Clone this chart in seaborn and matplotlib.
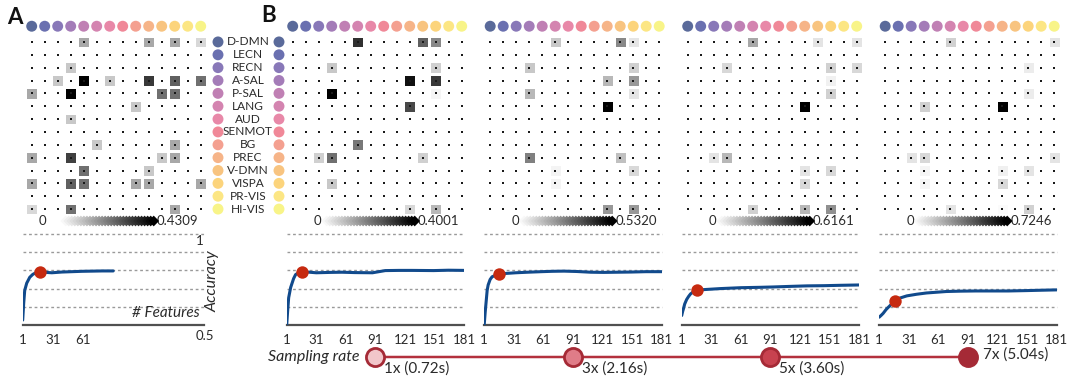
import numpy as np
import matplotlib
matplotlib.use("Agg")
import matplotlib.pyplot as plt
import seaborn as sns
from matplotlib.colors import LinearSegmentedColormap
from matplotlib.patches import ConnectionPatch

sns.set_theme(style="white")
plt.rcParams['font.family'] = ['Lato', 'DejaVu Sans']

# ---------------- data ----------------
networks = ["D-DMN", "LECN", "RECN", "A-SAL", "P-SAL", "LANG", "AUD", "SENMOT",
            "BG", "PREC", "V-DMN", "VISPA", "PR-VIS", "HI-VIS"]
net_colors = ["#5a6a9a", "#6a70b0", "#8878b8", "#a47cb8", "#c080b4", "#d484b0",
              "#e888a8", "#f08898", "#f4a090", "#f6b488", "#f8c480", "#fcd47c",
              "#fce684", "#f8f488"]

# nonzero cells: (row, col, value)
cells_A = [(0, 4, 0.147), (0, 9, 0.147), (0, 11, 0.147), (0, 13, 0.066),
           (2, 3, 0.093),
           (3, 2, 0.093), (3, 4, 0.4309), (3, 6, 0.093), (3, 9, 0.336), (3, 11, 0.269), (3, 13, 0.242),
           (4, 0, 0.147), (4, 3, 0.4309), (4, 10, 0.242), (4, 11, 0.242),
           (5, 8, 0.093), (6, 3, 0.093),
           (8, 5, 0.093), (8, 11, 0.147),
           (9, 0, 0.147), (9, 3, 0.323), (9, 10, 0.093), (9, 11, 0.147),
           (10, 4, 0.242), (10, 9, 0.093),
           (11, 0, 0.147), (11, 3, 0.269), (11, 4, 0.242), (11, 8, 0.147), (11, 9, 0.147), (11, 13, 0.147),
           (13, 0, 0.066), (13, 3, 0.242), (13, 11, 0.147)]
cells_B1 = [(0, 5, 0.325), (0, 10, 0.250), (0, 11, 0.187),
            (2, 3, 0.086), (2, 11, 0.074),
            (3, 9, 0.375), (3, 11, 0.312),
            (4, 3, 0.4001), (4, 11, 0.017),
            (5, 9, 0.287), (8, 5, 0.212),
            (9, 2, 0.074), (9, 3, 0.224), (9, 10, 0.074),
            (11, 3, 0.086),
            (13, 9, 0.061), (13, 11, 0.111)]
cells_B2 = [(0, 5, 0.115), (0, 10, 0.248), (0, 11, 0.056),
            (2, 3, 0.115), (2, 11, 0.098),
            (3, 9, 0.148), (3, 11, 0.215),
            (4, 3, 0.148), (4, 11, 0.056),
            (5, 9, 0.5320),
            (9, 3, 0.265), (9, 10, 0.131),
            (10, 5, 0.023), (10, 11, 0.081),
            (11, 5, 0.023),
            (13, 9, 0.215), (13, 11, 0.215)]
cells_B3 = [(0, 5, 0.210), (0, 10, 0.065), (0, 13, 0.065),
            (2, 3, 0.094), (2, 11, 0.113), (2, 13, 0.094),
            (3, 11, 0.036), (4, 11, 0.113),
            (5, 9, 0.6161),
            (9, 2, 0.065), (9, 3, 0.171),
            (10, 9, 0.065), (10, 11, 0.094),
            (11, 9, 0.094),
            (13, 5, 0.113), (13, 9, 0.171), (13, 11, 0.268)]
cells_B4 = [(0, 5, 0.133), (0, 13, 0.077),
            (2, 11, 0.054), (4, 11, 0.054),
            (5, 3, 0.133), (5, 9, 0.7246),
            (9, 2, 0.077), (9, 3, 0.111), (9, 13, 0.077),
            (10, 3, 0.031), (10, 9, 0.043), (10, 11, 0.077),
            (11, 3, 0.031), (11, 9, 0.111),
            (13, 5, 0.077), (13, 9, 0.014), (13, 11, 0.133)]
vmax_list = [0.4309, 0.4001, 0.5320, 0.6161, 0.7246]
vmax_labels = ["0.4309", "0.4001", "0.5320", "0.6161", "0.7246"]

feat_A = [1, 2, 3, 5, 8, 11, 14, 18, 24, 30, 40, 50, 60, 70, 80, 91]
acc_A = [0.527, 0.62, 0.69, 0.73, 0.762, 0.778, 0.787, 0.793, 0.789, 0.787, 0.791, 0.793, 0.795, 0.796, 0.797, 0.797]
feat_B1 = [1, 2, 3, 5, 8, 10, 13, 17, 24, 31, 45, 57, 70, 88, 101, 115, 128, 150, 165, 181]
acc_B1 = [0.5, 0.58, 0.65, 0.706, 0.755, 0.777, 0.787, 0.793, 0.79, 0.787, 0.789, 0.79, 0.788, 0.787, 0.799, 0.8, 0.8, 0.799, 0.801, 0.8]
feat_B2 = [1, 2, 3, 4, 5, 7, 9, 12, 16, 22, 33, 45, 59, 70, 82, 95, 109, 122, 136, 150, 165, 181]
acc_B2 = [0.5, 0.57, 0.63, 0.69, 0.72, 0.75, 0.765, 0.772, 0.778, 0.783, 0.787, 0.79, 0.793, 0.795, 0.796, 0.794, 0.79, 0.789, 0.79, 0.791, 0.793, 0.793]
feat_B3 = [1, 2, 3, 4, 6, 8, 10, 13, 17, 22, 28, 40, 61, 80, 94, 110, 128, 145, 161, 181]
acc_B3 = [0.552, 0.575, 0.593, 0.615, 0.64, 0.657, 0.671, 0.683, 0.691, 0.694, 0.696, 0.700, 0.705, 0.707, 0.709, 0.712, 0.715, 0.716, 0.718, 0.72]
feat_B4 = [1, 3, 5, 8, 10, 13, 17, 22, 29, 39, 49, 59, 69, 84, 99, 115, 132, 150, 165, 181]
acc_B4 = [0.543, 0.553, 0.564, 0.585, 0.596, 0.612, 0.633, 0.648, 0.66, 0.669, 0.676, 0.68, 0.684, 0.686, 0.687, 0.687, 0.687, 0.689, 0.691, 0.693]
selected_feat = [18, 17, 16, 17, 17]

ticks_A = [1, 31, 61]
ticks_B = [1, 31, 61, 91, 121, 151, 181]
sampling_labels = ["1x (0.72s)", "3x (2.16s)", "5x (3.60s)", "7x (5.04s)"]
sampling_fill = ["#f2c6ca", "#e07c88", "#c8424f", "#a52a36"]
sampling_at_feature = 91

# ---------------- layout ----------------
W, H = 1068, 379
fig = plt.figure(figsize=(W / 100, H / 100), dpi=100)
fig.patch.set_facecolor("white")


def px_axes(x, y, w, h):
    return fig.add_axes([x / W, 1 - (y + h) / H, w / W, h / H])


def ftext(x, y, s, **kw):
    return fig.text(x / W, 1 - y / H, s, **kw)


cmap = LinearSegmentedColormap.from_list("wb", ["#ffffff", "#000000"])
all_cells = [cells_A, cells_B1, cells_B2, cells_B3, cells_B4]
all_feat = [feat_A, feat_B1, feat_B2, feat_B3, feat_B4]
all_acc = [acc_A, acc_B1, acc_B2, acc_B3, acc_B4]
mat_lefts = [25.2, 286.2, 483.7, 681.2, 878.7]
acc_lefts = [22.7, 286.7, 484.2, 681.7, 879.2]
acc_widths = [181, 177.5, 177.5, 177.5, 177.5]
MAT_TOP, MAT_H, MAT_W = 35.5, 180.0, 182.0
ROW_PX = MAT_H / 14
ACC_TOP, ACC_H = 234, 91
txt_col = "#2a2a2a"

acc_axes = []
for p in range(5):
    n = len(networks)
    mat = np.zeros((n, n))
    for r, c, v in all_cells[p]:
        mat[r, c] = v
    ax = px_axes(mat_lefts[p], MAT_TOP, MAT_W, MAT_H)
    sns.heatmap(mat, ax=ax, cmap=cmap, vmin=0, vmax=vmax_list[p], cbar=False,
                linewidths=0.9, linecolor="white", xticklabels=False, yticklabels=False)
    ax.set_xlim(0, n)
    ax.set_ylim(n, 0)
    for s in ax.spines.values():
        s.set_visible(False)
    gx, gy = np.meshgrid(np.arange(n) + 0.5, np.arange(n) + 0.5)
    ax.scatter(gx.ravel(), gy.ravel(), s=1.3, marker="s", c="#1a1a1a", linewidths=0, zorder=3)
    # top network circles
    top_y = 0.5 - (41.7 - 26.0) / ROW_PX
    ax.scatter(np.arange(n) + 0.5, [top_y] * n, s=62, c=net_colors, linewidths=0,
               clip_on=False, zorder=4)
    # colour ramp
    ramp_y = (221 - MAT_TOP) / ROW_PX
    zero_x = 0.5 + (10.3 if p == 0 else 25.0) / 13
    ax.text(zero_x, ramp_y, "0", ha="center", va="center", fontsize=9.5, color=txt_col)
    rx = np.linspace(0.5 + 34 / 13, 0.5 + 122 / 13, 30)
    rc = cmap(np.linspace(0.03, 1.0, 30))
    ax.scatter(rx, [ramp_y] * 30, s=30, marker="D", c=rc, linewidths=0, clip_on=False, zorder=4)
    ax.text(0.5 + 125 / 13, ramp_y, vmax_labels[p], ha="left", va="center", fontsize=9.5,
            color=txt_col)
    if p == 0:
        lab_x = (248 - mat_lefts[0]) / 13
        circ_x = (218 - mat_lefts[0]) / 13
        ax.scatter([circ_x] * n, np.arange(n) + 0.5, s=62, c=net_colors, linewidths=0,
                   clip_on=False, zorder=4)
        for i, name in enumerate(networks):
            ax.text(lab_x, i + 0.5, name, ha="center", va="center", fontsize=8.6, color=txt_col)
    if p == 1:
        circ_x = (279 - mat_lefts[1]) / 13
        ax.scatter([circ_x] * n, np.arange(n) + 0.5, s=62, c=net_colors, linewidths=0,
                   clip_on=False, zorder=4)

    # accuracy curve
    axa = px_axes(acc_lefts[p], ACC_TOP, acc_widths[p], ACC_H)
    axa.set_facecolor("none")
    for lvl in [0.6, 0.7, 0.8, 0.9, 1.0]:
        axa.axhline(lvl, color="#9a9a9a", lw=1.0, ls=(0, (2, 2)), clip_on=False, zorder=1)
    sns.lineplot(x=all_feat[p], y=all_acc[p], ax=axa, color="#114a8c", lw=2.2, zorder=3)
    si = all_feat[p].index(selected_feat[p])
    axa.scatter([all_feat[p][si]], [all_acc[p][si]], s=80, color="#c62a10", zorder=5,
                linewidths=0, clip_on=False)
    axa.set_xlim(1, 181)
    axa.set_ylim(0.5, 1.0)
    for side in ["top", "left", "right"]:
        axa.spines[side].set_visible(False)
    axa.spines["bottom"].set_color("#505050")
    axa.spines["bottom"].set_linewidth(1.6)
    axa.set_yticks([])
    axa.set_xticks(ticks_A if p == 0 else ticks_B)
    axa.set_xticklabels([str(t) for t in (ticks_A if p == 0 else ticks_B)])
    axa.tick_params(axis="x", length=0, pad=6.5, labelsize=9.5, colors=txt_col)
    axa.set_xlabel("")
    axa.set_ylabel("")
    acc_axes.append(axa)

# panel A annotations
ftext(199.3, 240.7, "1", ha="center", va="center", fontsize=9.5, color=txt_col)
ftext(205, 336, "0.5", ha="center", va="center", fontsize=9.5, color=txt_col)
ftext(212.7, 281, "Accuracy", ha="center", va="center", rotation=90, fontsize=11.5,
      style="italic", color=txt_col)
ftext(200, 313, "# Features", ha="right", va="center", fontsize=11, style="italic", color=txt_col)
ftext(7, 18, "A", ha="left", va="center", fontsize=16, fontweight="bold", color="#111111")
ftext(261, 16, "B", ha="left", va="center", fontsize=16, fontweight="bold", color="#111111")

# sampling rate row
samp_y = 0.5 - (357 - (ACC_TOP + ACC_H)) / (ACC_H / 0.5)
line_col = "#b3313d"
con = ConnectionPatch(xyA=(sampling_at_feature, samp_y), coordsA=acc_axes[1].transData,
                      xyB=(sampling_at_feature, samp_y), coordsB=acc_axes[4].transData,
                      color=line_col, lw=1.8, zorder=1, clip_on=False)
acc_axes[1].add_artist(con)
for k in range(4):
    axk = acc_axes[k + 1]
    axk.scatter([sampling_at_feature], [samp_y], s=170, color=sampling_fill[k],
                edgecolors="#a52a36", linewidths=2.0, clip_on=False, zorder=6)
    if k < 3:
        axk.annotate(sampling_labels[k], xy=(sampling_at_feature, samp_y), xytext=(6.5, -8.5),
                     textcoords="offset points", ha="left", va="center", fontsize=11,
                     color=txt_col, annotation_clip=False)
    else:
        axk.annotate(sampling_labels[k], xy=(sampling_at_feature, samp_y), xytext=(10.5, 1.5),
                     textcoords="offset points", ha="left", va="center", fontsize=11,
                     color=txt_col, annotation_clip=False)
acc_axes[1].annotate("Sampling rate", xy=(sampling_at_feature, samp_y), xytext=(-11.5, 0),
                     textcoords="offset points", ha="right", va="center", fontsize=11.5,
                     style="italic", color=txt_col, annotation_clip=False)

fig.savefig("out.png", dpi=100, facecolor="white")
